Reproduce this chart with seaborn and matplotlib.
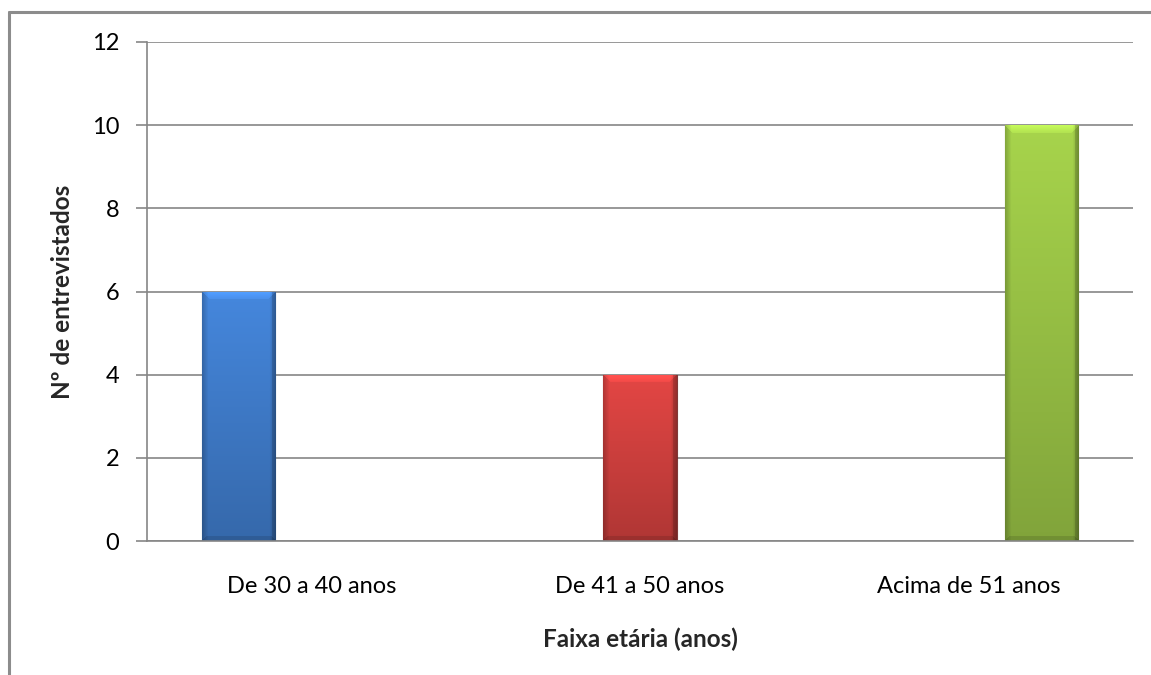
import numpy as np
import pandas as pd
import matplotlib
matplotlib.use("Agg")
import matplotlib.pyplot as plt
import seaborn as sns
from matplotlib.lines import Line2D
from matplotlib.colors import to_rgb

# Survey data: respondents by age group
categories = ["De 30 a 40 anos", "De 41 a 50 anos", "Acima de 51 anos"]
counts = [6, 4, 10]
bar_colors = ["#3f7bc9", "#cf403e", "#98c145"]
y_ticks = [0, 2, 4, 6, 8, 10, 12]

sns.set_theme(style="white")
plt.rcParams["font.family"] = ["Lato", "DejaVu Sans"]

df = pd.DataFrame({"faixa": categories, "n": counts})

fig = plt.figure(figsize=(11.51, 6.75), dpi=100)
W, H = 1151, 675
ax = fig.add_axes([147 / W, (675 - 541) / H, 986 / W, 499 / H])

sns.barplot(data=df, x="faixa", y="n", hue="faixa", order=categories,
            hue_order=categories, palette=bar_colors, dodge=True,
            width=0.667, legend=False, ax=ax, saturation=1, errorbar=None)

ax.set_ylim(0, 12)
ax.set_xlim(-0.5, 2.5)
ax.set_yticks(y_ticks)
ax.set_yticklabels([str(t) for t in y_ticks], fontsize=17, color="black")
ax.tick_params(axis="x", labelsize=17, colors="black", length=0, pad=25)
ax.tick_params(axis="y", length=8, width=1.2, color="#868686", pad=12,
               direction="out", left=True)
ax.yaxis.grid(True, color="#868686", linewidth=1.2)
ax.set_axisbelow(True)
for side in ["top", "right"]:
    ax.spines[side].set_visible(False)
for side in ["left", "bottom"]:
    ax.spines[side].set_color("#868686")
    ax.spines[side].set_linewidth(1.2)

ax.set_xlabel("Faixa etária (anos)", fontsize=17.5, fontweight="bold",
              labelpad=22)
ax.set_ylabel("Nº de entrevistados", fontsize=17.5, fontweight="bold",
              labelpad=13)

# Beveled gradient fill for each bar
fig.canvas.draw()
for patch in list(ax.patches):
    if patch.get_height() <= 0:
        continue
    x0, y0 = patch.get_x(), patch.get_y()
    w, h = patch.get_width(), patch.get_height()
    base = np.array(to_rgb(patch.get_facecolor()))
    p0 = ax.transData.transform((x0, y0))
    p1 = ax.transData.transform((x0 + w, y0 + h))
    pw = max(int(round(p1[0] - p0[0])), 2)
    ph = max(int(round(p1[1] - p0[1])), 2)
    yy = np.linspace(0, 1, ph)[:, None]          # 0 top, 1 bottom
    xx = np.arange(pw)[None, :]
    rows = np.arange(ph)[:, None]
    shade = 1.10 - 0.25 * yy
    # darker side edges
    dist_l = xx
    dist_r = pw - 1 - xx
    edge = np.minimum(dist_l, dist_r)
    side = np.where(edge < 6, 0.80 + 0.033 * edge, 1.0)
    right_dark = np.where(dist_r < 4, 0.85, 1.0)
    # lighter top bevel with mitred corners
    in_top = (rows < 8) & (rows <= np.minimum(dist_l, dist_r))
    top = np.where(in_top, 1.18 - 0.015 * rows, 1.0)
    bottom_rows = ph - 1 - rows
    in_bot = (bottom_rows < 5) & (bottom_rows <= np.minimum(dist_l, dist_r))
    bot = np.where(in_bot, 0.88, 1.0)
    factor = shade * side * right_dark * top * bot
    img = np.clip(base[None, None, :] * factor[:, :, None], 0, 1)
    patch.set_facecolor("none")
    patch.set_edgecolor((base * 0.55).tolist() + [0.9])
    patch.set_linewidth(0.8)
    im = ax.imshow(img, extent=(x0, x0 + w, y0, y0 + h), aspect="auto",
                   origin="upper", zorder=patch.get_zorder(),
                   interpolation="bilinear")
    im.set_clip_path(patch)

ax.set_xlim(-0.5, 2.5)
ax.set_ylim(0, 12)

# Chart frame
frame_kw = dict(color="#8c8c8c", linewidth=2.2, transform=None)
fig.add_artist(Line2D([9, W], [H - 12, H - 12], **frame_kw))
fig.add_artist(Line2D([9, 9], [0, H - 12], **frame_kw))

fig.savefig("out.png", dpi=100, facecolor="white")
